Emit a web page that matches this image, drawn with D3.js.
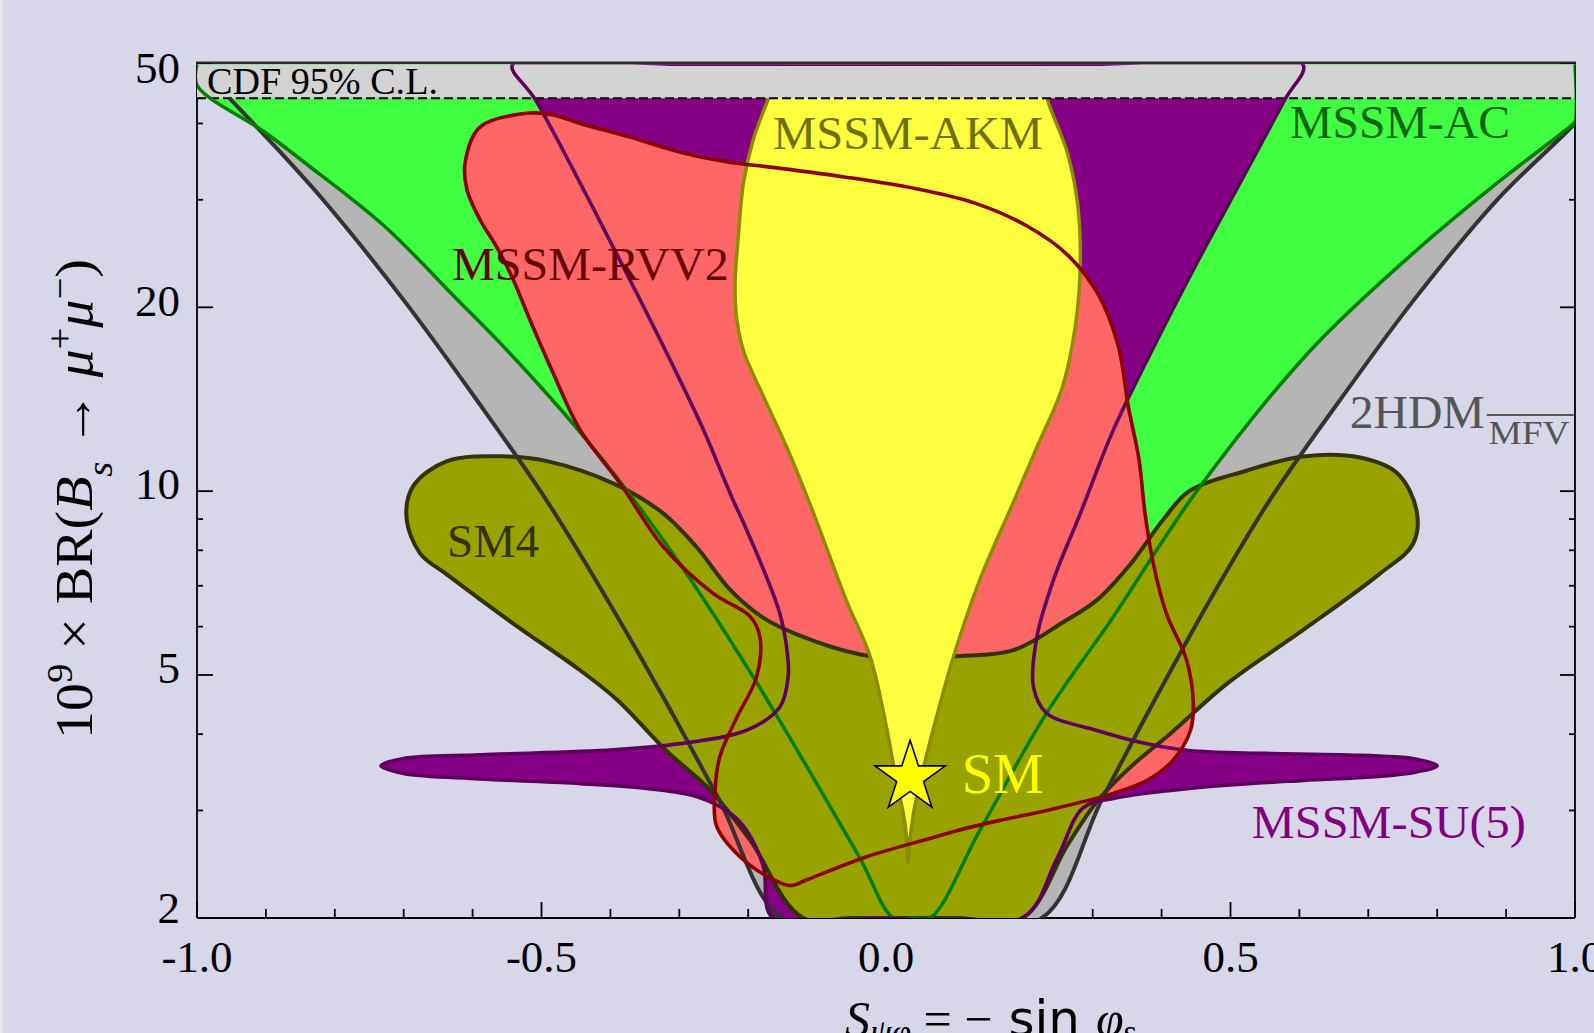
<!DOCTYPE html>
<html>
<head>
<meta charset="utf-8">
<script src="https://cdn.jsdelivr.net/npm/d3@7/dist/d3.min.js"></script>
<style>
html,body{margin:0;padding:0;background:#d7d7e9;overflow:hidden;}
svg{display:block;}
</style>
</head>
<body>
<svg id="chart" width="1594" height="1033"></svg>
<script>
// ---------- axis / tick data ----------
const xMajor = [-1, -0.5, 0, 0.5, 1];
const xLabels = ["-1.0", "-0.5", "0.0", "0.5", "1.0"];
const xMinor = [-0.9,-0.8,-0.7,-0.6,-0.4,-0.3,-0.2,-0.1,0.1,0.2,0.3,0.4,0.6,0.7,0.8,0.9];
const yMajor = [2, 5, 10, 20, 50];
const yLabels = ["2", "5", "10", "20", "50"];
const yMinor = [3, 4, 6, 7, 8, 9, 30, 40];
const cdfLimit = 44;
const smPoint = [0.035, 3.4];

// ---------- regions: [S_psi_phi, 1e9 x BR] ----------
const hdmLeft = [[-0.953,44.0],[-0.882,36.2],[-0.817,30.0],[-0.700,20.55],[-0.594,14.1],[-0.493,9.67],[-0.404,6.63],[-0.321,4.55],[-0.242,3.12],[-0.151,2.0]];
const hdmBottom = [[-0.05,2.0],[0.1,2.0]];
const hdmRight = [[0.226,2.0],[0.313,3.12],[0.390,4.55],[0.470,6.63],[0.557,9.67],[0.659,14.1],[0.766,20.55],[0.887,30.0],[0.996,39.6],[1.0,40.2]];

const acBoundary = [[-1,50],[-1,46.2],[-0.903,38.8],[-0.842,34.4],[-0.727,27.1],[-0.626,20.8],[-0.552,17.1],[-0.467,13.4],[-0.390,10.5],[-0.299,7.6],[-0.193,4.97],[-0.125,3.7],[-0.039,2.52],[0.011,2.0],[0.038,2.0],[0.064,2.0],[0.136,2.78],[0.233,4.33],[0.330,6.23],[0.451,10.0],[0.616,17.0],[0.770,24.8],[0.880,31.5],[0.996,39.8],[1.0,40.2],[1.0,50]];
const acTop = [[0.5,50],[0,50],[-0.5,50]];

const su5 = [[-0.542,50],[-0.508,43.6],[-0.396,25.1],[-0.299,15.2],[-0.265,12.6],[-0.222,9.67],[-0.202,8.63],[-0.154,6.30],[-0.143,5.4],[-0.142,4.97],[-0.154,4.43],[-0.202,4.06],[-0.299,3.86],[-0.396,3.77],[-0.589,3.70],[-0.700,3.65],[-0.733,3.55],[-0.700,3.45],[-0.589,3.38],[-0.444,3.32],[-0.347,3.26],[-0.274,3.16],[-0.226,2.97],[-0.202,2.78],[-0.178,2.43],[-0.164,2.0],[0.0,2.0],[0.198,2.0],[0.248,2.5],[0.286,3.03],[0.330,3.14],[0.440,3.26],[0.605,3.36],[0.715,3.41],[0.770,3.47],[0.800,3.55],[0.770,3.64],[0.660,3.70],[0.550,3.72],[0.440,3.76],[0.377,3.86],[0.305,4.06],[0.233,4.33],[0.214,4.78],[0.219,5.77],[0.243,7.15],[0.282,9.19],[0.330,12.6],[0.386,17.0],[0.456,24.2],[0.495,29.2],[0.578,43.6],[0.605,50],[0.3,50],[0.0,50],[-0.3,50]];

const rvv2 = [[-0.517,41.6],[-0.483,41.3],[-0.444,40.0],[-0.372,38.0],[-0.299,35.9],[-0.230,34.6],[-0.165,33.9],[-0.061,32.7],[0.042,31.3],[0.130,29.6],[0.204,27.2],[0.263,24.4],[0.308,21.0],[0.337,17.3],[0.352,13.7],[0.367,11.3],[0.376,9.19],[0.388,7.6],[0.407,6.3],[0.436,5.3],[0.446,4.49],[0.442,4.06],[0.417,3.63],[0.379,3.36],[0.330,3.2],[0.233,3.0],[0.165,2.89],[0.103,2.78],[0.069,2.71],[-0.028,2.52],[-0.115,2.31],[-0.139,2.26],[-0.163,2.31],[-0.212,2.52],[-0.246,2.83],[-0.248,3.24],[-0.241,3.68],[-0.217,4.25],[-0.188,4.96],[-0.183,5.77],[-0.197,6.23],[-0.251,6.8],[-0.323,8.1],[-0.386,10.3],[-0.444,12.6],[-0.483,15.6],[-0.517,19.1],[-0.541,22.2],[-0.565,25.1],[-0.589,27.8],[-0.608,31.1],[-0.611,34.4],[-0.589,39.5]];

const sm4 = [[-0.696,9.07],[-0.686,10.2],[-0.637,11.2],[-0.550,11.4],[-0.492,11.2],[-0.396,10.3],[-0.323,9.19],[-0.275,8.1],[-0.226,6.89],[-0.178,6.2],[-0.125,5.8],[-0.037,5.4],[0.03,5.3],[0.098,5.36],[0.185,5.49],[0.257,6.1],[0.306,6.63],[0.355,7.6],[0.403,9.0],[0.440,10.0],[0.523,10.8],[0.605,11.4],[0.688,11.35],[0.742,10.7],[0.770,9.3],[0.765,8.2],[0.715,7.3],[0.605,5.92],[0.495,4.84],[0.413,4.01],[0.358,3.56],[0.308,3.12],[0.264,2.64],[0.198,2.0],[0.1,2.0],[-0.02,2.0],[-0.120,2.0],[-0.197,2.68],[-0.255,3.24],[-0.318,3.75],[-0.39,4.55],[-0.444,5.09],[-0.541,6.07],[-0.637,7.3],[-0.676,7.9]];

const akm = [[-0.15,50],[-0.171,43.8],[-0.193,37.5],[-0.207,31.9],[-0.214,26.4],[-0.219,21.9],[-0.217,19.3],[-0.207,17.0],[-0.178,14.3],[-0.144,11.8],[-0.105,9.19],[-0.057,6.6],[-0.023,5.36],[0.001,4.09],[0.015,3.36],[0.025,2.97],[0.030,2.70],[0.032,2.46],[0.035,2.70],[0.040,2.97],[0.050,3.36],[0.069,4.09],[0.098,5.36],[0.136,7.15],[0.185,9.6],[0.219,11.8],[0.256,14.8],[0.275,18.7],[0.282,23.5],[0.278,29.6],[0.263,35.9],[0.234,43.9],[0.225,50],[0.04,50]];

// ---------- setup ----------
const svg = d3.select("#chart");
const x = d3.scaleLinear().domain([-1, 1]).range([197, 1575]);
const y = d3.scaleLog().domain([2, 50]).range([918, 64.3]);
const FONT = "'Liberation Serif', 'DejaVu Serif', serif";

svg.append("rect").attr("width", 1594).attr("height", 1033).attr("fill", "#d7d7e9");
svg.append("rect").attr("width", 3).attr("height", 1033).attr("fill", "#e6e6ef");

svg.append("defs").append("clipPath").attr("id", "plotClip").append("rect")
  .attr("x", x(-1)).attr("y", y(50)).attr("width", x(1) - x(-1)).attr("height", y(2) - y(50));

// frame & ticks (under the regions)
const axes = svg.append("g").attr("stroke", "#000").attr("stroke-width", 1.8).attr("fill", "none");
axes.append("line").attr("x1", x(-1)).attr("x2", x(-1)).attr("y1", y(50)).attr("y2", y(2));
axes.append("line").attr("x1", x(1)).attr("x2", x(1)).attr("y1", y(50)).attr("y2", y(2));
axes.append("line").attr("x1", x(-1)).attr("x2", x(1)).attr("y1", y(2)).attr("y2", y(2));
axes.append("line").attr("x1", x(-1) - 1).attr("x2", x(1) + 1).attr("y1", y(50) - 1.2).attr("y2", y(50) - 1.2).attr("stroke", "#2f2f2f").attr("stroke-width", 3);
xMajor.forEach(t => axes.append("line").attr("x1", x(t)).attr("x2", x(t)).attr("y1", y(2)).attr("y2", y(2) - 16));
xMinor.forEach(t => axes.append("line").attr("x1", x(t)).attr("x2", x(t)).attr("y1", y(2)).attr("y2", y(2) - 9));
yMajor.forEach(t => {
  axes.append("line").attr("x1", x(-1)).attr("x2", x(-1) + 16).attr("y1", y(t)).attr("y2", y(t));
  axes.append("line").attr("x1", x(1)).attr("x2", x(1) - 15).attr("y1", y(t)).attr("y2", y(t));
});
yMinor.forEach(t => {
  axes.append("line").attr("x1", x(-1)).attr("x2", x(-1) + 6).attr("y1", y(t)).attr("y2", y(t));
  axes.append("line").attr("x1", x(1)).attr("x2", x(1) - 6).attr("y1", y(t)).attr("y2", y(t));
});

// tick labels
xMajor.forEach((t, i) => svg.append("text").attr("x", x(t)).attr("y", 972)
  .attr("text-anchor", "middle").attr("font-family", FONT).attr("font-size", 45).attr("fill", "#000").text(xLabels[i]));
yMajor.forEach((t, i) => {
  const off = (t === 50) ? 19 : (t === 2 ? 4.7 : 8.3);
  svg.append("text").attr("x", 180).attr("y", y(t) + off)
    .attr("text-anchor", "end").attr("font-family", FONT).attr("font-size", 45).attr("fill", "#000").text(yLabels[i]);
});

// regions
const plot = svg.append("g").attr("clip-path", "url(#plotClip)");
const lineOpen = d3.line().x(d => x(d[0])).y(d => y(d[1])).curve(d3.curveCatmullRom.alpha(0.5));
const lineClosed = d3.line().x(d => x(d[0])).y(d => y(d[1])).curve(d3.curveCatmullRomClosed.alpha(0.5));

plot.append("path").attr("d", lineClosed([[-1, 50], ...hdmLeft, ...hdmBottom, ...hdmRight, [1, 50], [0, 50]])).attr("fill", "#b5b5b5");
plot.append("path").attr("d", lineClosed([...acBoundary, ...acTop])).attr("fill", "#40ff40");
plot.append("path").attr("d", lineClosed(su5)).attr("fill", "#850085");
plot.append("path").attr("d", lineClosed(rvv2)).attr("fill", "#ff6666");
plot.append("path").attr("d", lineClosed(sm4)).attr("fill", "#99a300").attr("stroke", "#333300").attr("stroke-width", 4);
plot.append("path").attr("d", lineClosed(akm)).attr("fill", "#ffff40").attr("stroke", "#8c8c00").attr("stroke-width", 3.5);

// CDF band
plot.append("rect").attr("x", x(-1)).attr("y", y(50)).attr("width", x(1) - x(-1)).attr("height", y(cdfLimit) - y(50)).attr("fill", "#d3d3d3");
plot.append("line").attr("x1", x(-1)).attr("x2", x(1)).attr("y1", y(cdfLimit)).attr("y2", y(cdfLimit))
  .attr("stroke", "#000").attr("stroke-width", 2).attr("stroke-dasharray", "9,4");

// outlines on top
plot.append("path").attr("d", lineOpen([...hdmLeft, ...hdmBottom, ...hdmRight])).attr("fill", "none").attr("stroke", "#333333").attr("stroke-width", 4);
plot.append("path").attr("d", lineOpen(acBoundary)).attr("fill", "none").attr("stroke", "#008000").attr("stroke-width", 3.6);
plot.append("path").attr("d", lineClosed(su5)).attr("fill", "none").attr("stroke", "#5e005e").attr("stroke-width", 3.6);
plot.append("path").attr("d", lineClosed(rvv2)).attr("fill", "none").attr("stroke", "#8b0000").attr("stroke-width", 3.6);

// SM star
svg.append("path").attr("d", d3.symbol().type(d3.symbolStar).size(1537)())
  .attr("transform", `translate(${x(smPoint[0])},${y(smPoint[1])})`)
  .attr("fill", "#ffff00").attr("stroke", "#000").attr("stroke-width", 1.6);

// region labels
function label(txt, sx, by, color, size, len) {
  const t = svg.append("text").attr("x", x(sx)).attr("y", y(by)).attr("font-family", FONT)
    .attr("font-size", size).attr("fill", color).text(txt);
  if (len) t.attr("textLength", len).attr("lengthAdjust", "spacingAndGlyphs");
  return t;
}
label("CDF 95% C.L.", -0.9855, 44.7, "#000", 37, 231);
label("MSSM-AC", 0.5864, 37.9, "#0a640a", 47, 220);
label("MSSM-AKM", -0.164, 36.3, "#707000", 47, 270);
label("MSSM-RVV2", -0.630, 22.2, "#660000", 47, 277);
label("SM4", -0.637, 7.8, "#333300", 47, 92);
label("2HDM", 0.673, 12.7, "#555555", 47, 135);
label("MFV", 0.8746, 11.94, "#555555", 34, 81);
svg.append("line").attr("x1", x(0.872)).attr("x2", x(0.998)).attr("y1", y(13.32)).attr("y2", y(13.32))
  .attr("stroke", "#555555").attr("stroke-width", 2);
label("MSSM-SU(5)", 0.531, 2.70, "#800080", 47, 274);
label("SM", 0.110, 3.21, "#ffff00", 57, 82);

// axis titles
const yt = svg.append("text").attr("transform", "translate(92,499) rotate(-90)").attr("text-anchor", "middle")
  .attr("font-family", FONT).attr("font-size", 52).attr("fill", "#000")
  .attr("textLength", 480).attr("lengthAdjust", "spacingAndGlyphs");
yt.append("tspan").text("10");
yt.append("tspan").attr("baseline-shift", "super").attr("font-size", 36).text("9");
yt.append("tspan").text(" × BR(");
yt.append("tspan").attr("font-style", "italic").text("B");
yt.append("tspan").attr("baseline-shift", "sub").attr("font-size", 36).attr("font-style", "italic").text("s");
yt.append("tspan").text(" → ");
yt.append("tspan").attr("font-style", "italic").text("μ");
yt.append("tspan").attr("baseline-shift", "super").attr("font-size", 36).text("+");
yt.append("tspan").attr("font-style", "italic").text("μ");
yt.append("tspan").attr("baseline-shift", "super").attr("font-size", 36).text("−");
yt.append("tspan").text(")");

const xt = svg.append("text").attr("x", 845).attr("y", 1036).attr("font-family", FONT).attr("font-size", 50).attr("fill", "#000");
xt.append("tspan").attr("font-style", "italic").text("S");
xt.append("tspan").attr("baseline-shift", "-8").attr("font-size", 35).attr("font-style", "italic").text("ψφ");
xt.append("tspan").text(" = −");
xt.append("tspan").attr("font-family", "'DejaVu Sans', sans-serif").text(" sin ");
xt.append("tspan").attr("font-style", "italic").text("φ");
xt.append("tspan").attr("baseline-shift", "-8").attr("font-size", 35).text("s");
</script>
</body>
</html>
